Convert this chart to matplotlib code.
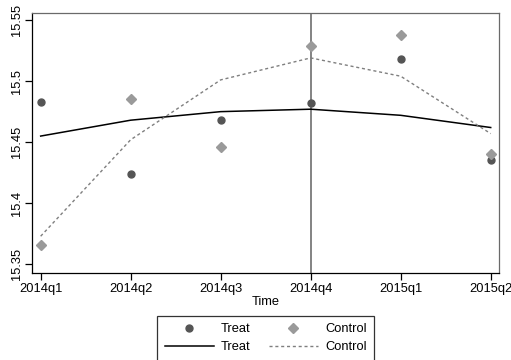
import matplotlib.pyplot as plt
import numpy as np

plt.rcParams['font.family'] = ['Liberation Sans', 'DejaVu Sans']

quarters = ['2014q1', '2014q2', '2014q3', '2014q4', '2015q1', '2015q2']
treat_obs = [15.483, 15.424, 15.468, 15.482, 15.518, 15.435]
control_obs = [15.366, 15.485, 15.446, 15.529, 15.538, 15.440]
treat_fit = [15.455, 15.468, 15.475, 15.477, 15.472, 15.462]
control_fit = [15.373, 15.452, 15.501, 15.519, 15.504, 15.457]
event_quarter = '2014q4'

x = np.arange(len(quarters))

fig = plt.figure(figsize=(5.11, 3.6), dpi=100)
ax = fig.add_axes([0.0632, 0.2417, 0.9133, 0.723])

# vertical reference line at the event quarter
ax.axvline(quarters.index(event_quarter), color='#7a7a7a', linewidth=1.3, zorder=1)

h1, = ax.plot(x, treat_obs, 'o', color='#555555', markersize=5, linestyle='none',
              label='Treat', zorder=3)
h2, = ax.plot(x, control_obs, 'D', color='#9a9a9a', markersize=4.6, linestyle='none',
              label='Control', zorder=3)
h3, = ax.plot(x, treat_fit, '-', color='black', linewidth=1.1, label='Treat', zorder=2)
h4, = ax.plot(x, control_fit, color='#7f7f7f', linewidth=1.0, linestyle=(0, (2.2, 2)),
              label='Control', zorder=2)

ax.set_xlim(-0.093, 5.092)
ax.set_ylim(15.3429, 15.556)
ax.set_xticks(x)
ax.set_xticklabels(quarters, fontsize=9.3)
ax.set_yticks([15.35, 15.4, 15.45, 15.5, 15.55])
ax.set_yticklabels(['15.35', '15.4', '15.45', '15.5', '15.55'], fontsize=9.3,
                   rotation=90, va='center')
ax.tick_params(direction='out', length=5, width=0.9, pad=2)
ax.set_xlabel('Time', fontsize=9.3, labelpad=1)

for side in ['left', 'bottom']:
    ax.spines[side].set_color('black')
    ax.spines[side].set_linewidth(0.9)
for side in ['top', 'right']:
    ax.spines[side].set_color('#6a6a6a')
    ax.spines[side].set_linewidth(0.9)

leg = fig.legend([h1, h3, h2, h4], ['Treat', 'Treat', 'Control', 'Control'],
                 ncol=2, loc='upper center', bbox_to_anchor=(265.7 / 511, 1 - 315.7 / 360),
                 fontsize=9.3, frameon=True, fancybox=False, handlelength=3.8,
                 columnspacing=1.4, handletextpad=0.55, labelspacing=0.45,
                 borderpad=0.6, borderaxespad=0, numpoints=1)
leg.get_frame().set_edgecolor('black')
leg.get_frame().set_linewidth(0.9)

fig.savefig('out.png', dpi=100)
